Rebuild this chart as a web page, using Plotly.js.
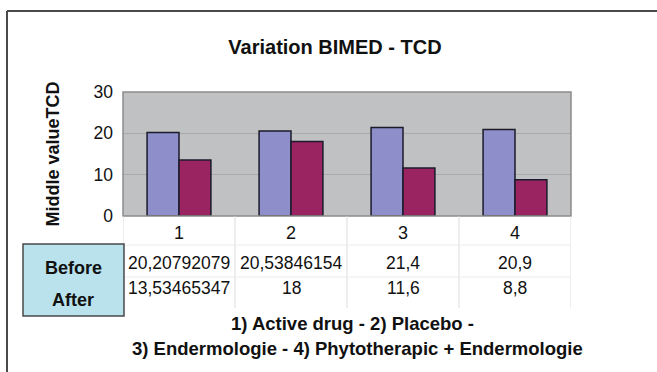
<!DOCTYPE html>
<html>
<head>
<meta charset="utf-8">
<script src="https://cdn.plot.ly/plotly-3.0.1.min.js"></script>
<style>html,body{margin:0;padding:0;background:#fff;}#chart{width:657px;height:372px;}</style>
</head>
<body>
<div id="chart"></div>
<script>
const categories = ['1', '2', '3', '4'];
const before = [20.20792079, 20.53846154, 21.4, 20.9];
const after = [13.53465347, 18, 11.6, 8.8];
const seriesNames = ['Before', 'After'];
const chartTitle = 'Variation BIMED - TCD';
const yTitle = 'Middle valueTCD';
const footLines = ['1) Active drug - 2) Placebo -', '3) Endermologie - 4) Phytotherapic + Endermologie'];

const W = 657, H = 372;
const PL = 123, PR = 571, PT = 92, PB = 216;
const px = x => (x - PL) / (PR - PL);
const py = y => (PB - y) / (PB - PT);
const fmt = v => String(v).replace('.', ',');
const FONT = 'Liberation Sans, Arial, sans-serif';

const traces = [
  {type: 'bar', name: seriesNames[0], x: categories, y: before,
   marker: {color: '#8e8fca', line: {color: '#1b1b2b', width: 1.5}}},
  {type: 'bar', name: seriesNames[1], x: categories, y: after,
   marker: {color: '#9a2462', line: {color: '#1b1b2b', width: 1.5}}}
];

const shapes = [];
const annotations = [];
// outer frame (top & left)
shapes.push({type: 'line', xref: 'paper', yref: 'paper', x0: px(7), x1: px(W + 5), y0: py(11), y1: py(11), line: {color: '#4a4a4a', width: 2}});
shapes.push({type: 'line', xref: 'paper', yref: 'paper', x0: px(7), x1: px(7), y0: py(11), y1: py(H + 5), line: {color: '#4a4a4a', width: 2}});
// plot border
shapes.push({type: 'rect', xref: 'paper', yref: 'paper', x0: 0, x1: 1, y0: 0, y1: 1, line: {color: '#8c8c8c', width: 1.5}});
// table grid
for (let i = 0; i <= categories.length; i++) {
  shapes.push({type: 'line', xref: 'x', yref: 'paper', x0: i - 0.5, x1: i - 0.5, y0: py(216), y1: py(308), line: {color: '#dcdcdc', width: 1}});
}
[245, 277].forEach(yy => {
  shapes.push({type: 'line', xref: 'paper', yref: 'paper', x0: 0, x1: 1, y0: py(yy), y1: py(yy), line: {color: '#ececec', width: 1}});
});
// legend key box
shapes.push({type: 'rect', xref: 'paper', yref: 'paper', x0: px(23), x1: px(124), y0: py(316), y1: py(244), fillcolor: '#b9e2ec', line: {color: '#4a4a4a', width: 1.5}});
annotations.push({xref: 'paper', yref: 'paper', x: px(73), y: py(268), text: '<b>' + seriesNames[0] + '</b>', showarrow: false, font: {family: FONT, size: 18, color: '#111'}, xanchor: 'center', yanchor: 'middle'});
annotations.push({xref: 'paper', yref: 'paper', x: px(73), y: py(300), text: '<b>' + seriesNames[1] + '</b>', showarrow: false, font: {family: FONT, size: 18, color: '#111'}, xanchor: 'center', yanchor: 'middle'});
// table values
categories.forEach((c, i) => {
  annotations.push({xref: 'x', yref: 'paper', x: i, y: py(263), text: fmt(before[i]), showarrow: false, font: {family: FONT, size: 17.5, color: '#111'}, xanchor: 'center', yanchor: 'middle'});
  annotations.push({xref: 'x', yref: 'paper', x: i, y: py(288), text: fmt(after[i]), showarrow: false, font: {family: FONT, size: 17.5, color: '#111'}, xanchor: 'center', yanchor: 'middle'});
});
// footnote
annotations.push({xref: 'paper', yref: 'paper', x: px(352), y: py(323), text: '<b>' + footLines[0] + '</b>', showarrow: false, font: {family: FONT, size: 18.5, color: '#111'}, xanchor: 'center', yanchor: 'middle'});
annotations.push({xref: 'paper', yref: 'paper', x: px(357), y: py(349), text: '<b>' + footLines[1] + '</b>', showarrow: false, font: {family: FONT, size: 18.5, color: '#111'}, xanchor: 'center', yanchor: 'middle'});

const layout = {
  width: W, height: H,
  margin: {l: PL, r: W - PR, t: PT, b: H - PB, pad: 0},
  paper_bgcolor: '#ffffff',
  plot_bgcolor: '#c0c1c2',
  showlegend: false,
  font: {family: FONT, color: '#111'},
  title: {text: '<b>' + chartTitle + '</b>', x: 335 / W, xanchor: 'center', y: 1 - 47 / H, yanchor: 'middle', font: {family: FONT, size: 20, color: '#111'}},
  barmode: 'group', bargap: 0.43, bargroupgap: 0,
  xaxis: {type: 'category', range: [-0.5, 3.5], showgrid: false, zeroline: false, showline: false, ticks: '', tickfont: {family: FONT, size: 18, color: '#111'}, ticklabelstandoff: 4},
  yaxis: {range: [0, 30], dtick: 10, showgrid: true, gridcolor: '#a9aaab', gridwidth: 1, zeroline: false, showline: false, ticks: '', tickfont: {family: FONT, size: 17.5, color: '#111'}, ticklabelstandoff: 9,
          title: {text: '<b>' + yTitle + '</b>', font: {family: FONT, size: 18, color: '#111'}, standoff: 29}},
  shapes: shapes,
  annotations: annotations
};

Plotly.newPlot('chart', traces, layout, {displayModeBar: false, staticPlot: true});
</script>
</body>
</html>
